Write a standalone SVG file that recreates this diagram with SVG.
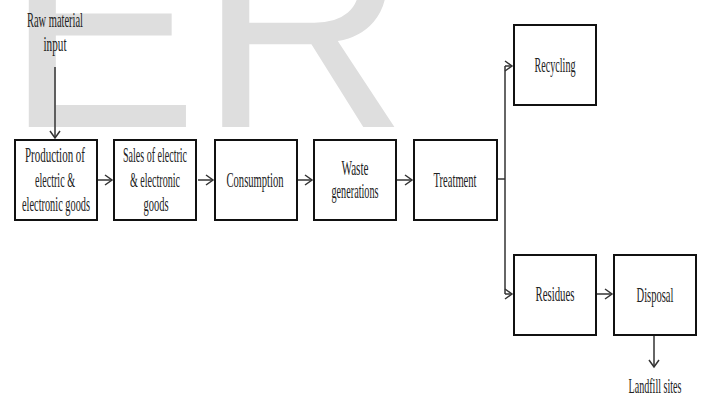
<svg xmlns="http://www.w3.org/2000/svg" width="702" height="395" viewBox="0 0 702 395">
<style>
  .box { fill: #ffffff; stroke: #111111; stroke-width: 2; }
  .lbl { font-family: "Liberation Serif", "Times New Roman", serif; font-size: 21px; fill: #222222; text-anchor: middle; }
  .conn { stroke: #333333; stroke-width: 1.5; fill: none; }
  .wm { font-family: "Liberation Sans", Arial, sans-serif; font-size: 290px; fill: #dedede; }
</style>
<defs>
  <marker id="chev" markerUnits="userSpaceOnUse" markerWidth="10" markerHeight="12" refX="8" refY="6" orient="auto">
    <path d="M1,1 L8,6 L1,11" fill="none" stroke="#333333" stroke-width="1.5"/>
  </marker>
</defs>
<rect width="702" height="395" fill="#ffffff"/>
<text class="wm" x="5" y="127">ER</text>

<g id="connectors">
  <line class="conn" x1="55" y1="67" x2="55" y2="138" marker-end="url(#chev)"/>
  <line class="conn" x1="98" y1="180" x2="112" y2="180" marker-end="url(#chev)"/>
  <line class="conn" x1="198" y1="180" x2="213" y2="180" marker-end="url(#chev)"/>
  <line class="conn" x1="298" y1="180" x2="312" y2="180" marker-end="url(#chev)"/>
  <line class="conn" x1="397" y1="180" x2="412" y2="180" marker-end="url(#chev)"/>
  <polyline class="conn" points="498,179 505,179"/>
  <line class="conn" x1="505" y1="66" x2="505" y2="294"/>
  <line class="conn" x1="505" y1="66" x2="512" y2="66" marker-end="url(#chev)"/>
  <line class="conn" x1="505" y1="294" x2="512" y2="294" marker-end="url(#chev)"/>
  <line class="conn" x1="597" y1="294" x2="612" y2="294" marker-end="url(#chev)"/>
  <line class="conn" x1="654" y1="336" x2="654" y2="367" marker-end="url(#chev)"/>
</g>

<g id="raw-material">
  <text class="lbl" x="55" y="27" textLength="56" lengthAdjust="spacingAndGlyphs">Raw material</text>
  <text class="lbl" x="55" y="51" textLength="23" lengthAdjust="spacingAndGlyphs">input</text>
</g>

<g id="production">
  <rect class="box" x="15" y="140" width="82" height="80"/>
  <text class="lbl" x="55" y="162" textLength="60" lengthAdjust="spacingAndGlyphs">Production of</text>
  <text class="lbl" x="55" y="187" textLength="40" lengthAdjust="spacingAndGlyphs">electric &amp;</text>
  <text class="lbl" x="56" y="211" textLength="68" lengthAdjust="spacingAndGlyphs">electronic goods</text>
</g>

<g id="sales">
  <rect class="box" x="114" y="140" width="82" height="80"/>
  <text class="lbl" x="155" y="162" textLength="64" lengthAdjust="spacingAndGlyphs">Sales of electric</text>
  <text class="lbl" x="155" y="187" textLength="50" lengthAdjust="spacingAndGlyphs">&amp; electronic</text>
  <text class="lbl" x="156" y="211" textLength="25" lengthAdjust="spacingAndGlyphs">goods</text>
</g>

<g id="consumption">
  <rect class="box" x="215" y="140" width="82" height="80"/>
  <text class="lbl" x="255" y="187" textLength="57" lengthAdjust="spacingAndGlyphs">Consumption</text>
</g>

<g id="waste">
  <rect class="box" x="314" y="140" width="82" height="80"/>
  <text class="lbl" x="355" y="175" textLength="27" lengthAdjust="spacingAndGlyphs">Waste</text>
  <text class="lbl" x="355" y="198" textLength="47" lengthAdjust="spacingAndGlyphs">generations</text>
</g>

<g id="treatment">
  <rect class="box" x="414" y="140" width="83" height="80"/>
  <text class="lbl" x="455" y="187" textLength="43" lengthAdjust="spacingAndGlyphs">Treatment</text>
</g>

<g id="recycling">
  <rect class="box" x="514" y="25" width="82" height="80"/>
  <text class="lbl" x="555" y="72" textLength="41" lengthAdjust="spacingAndGlyphs">Recycling</text>
</g>

<g id="residues">
  <rect class="box" x="514" y="255" width="82" height="80"/>
  <text class="lbl" x="555" y="301" textLength="39" lengthAdjust="spacingAndGlyphs">Residues</text>
</g>

<g id="disposal">
  <rect class="box" x="614" y="255" width="82" height="80"/>
  <text class="lbl" x="655" y="302" textLength="37" lengthAdjust="spacingAndGlyphs">Disposal</text>
</g>

<g id="landfill">
  <text class="lbl" x="655" y="393" textLength="53" lengthAdjust="spacingAndGlyphs">Landfill sites</text>
</g>
</svg>
